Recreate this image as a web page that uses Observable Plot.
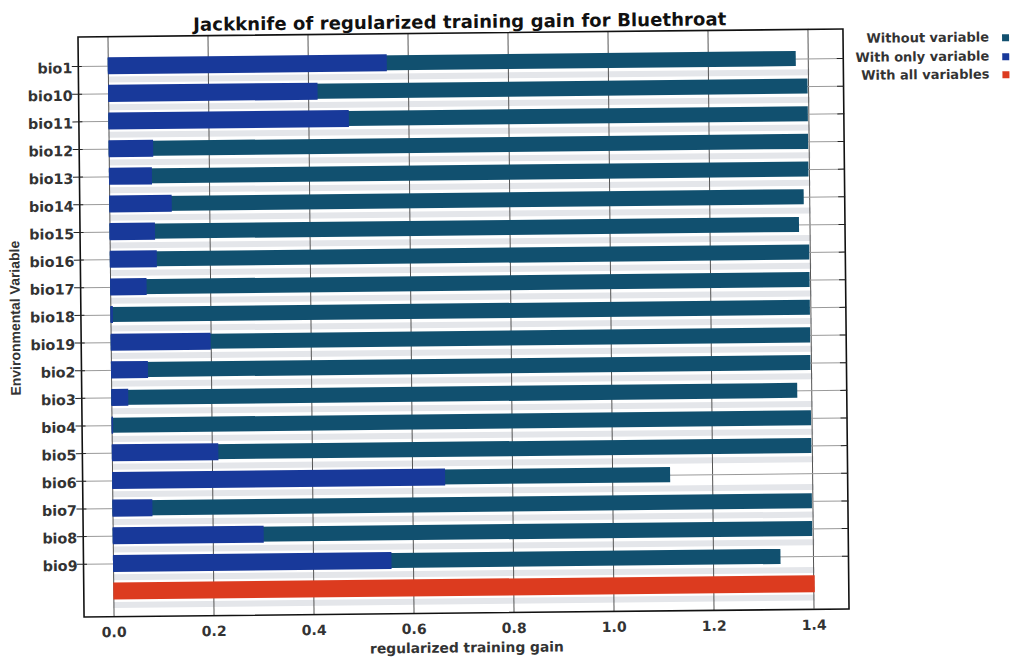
<!DOCTYPE html>
<html>
<head>
<meta charset="utf-8">
<script src="https://cdn.jsdelivr.net/npm/d3@7"></script>
<script src="https://cdn.jsdelivr.net/npm/@observablehq/plot@0.6"></script>
<style>
  html, body { margin: 0; padding: 0; background: #fff; }
  #chart {
    position: absolute; left: 0; top: 0; width: 1021px; height: 657px;
    transform: rotate(-0.6deg); transform-origin: 463px 322.5px;
    font-family: "DejaVu Sans", sans-serif; color: #333;
  }
  #chart svg { position: absolute; left: 0; top: 0; }
  #title {
    position: absolute; left: 0; width: 926px; top: 13px; text-align: center;
    font-weight: bold; font-size: 18px; line-height: 18px; letter-spacing: 0.1px; color: #111;
  }
  .legend-row {
    position: absolute; right: 9.5px; display: flex; align-items: center; gap: 12.5px;
    font-size: 13px; font-weight: bold; line-height: 18.5px; color: #333; white-space: nowrap;
  }
  .swatch { width: 7px; height: 7px; }
</style>
</head>
<body>
<div id="chart"><div id="title"></div></div>
<script>
// Jackknife test of variable importance (MaxEnt), regularized training gain
const chartTitle = "Jackknife of regularized training gain for Bluethroat";
const variables = ["bio1","bio10","bio11","bio12","bio13","bio14","bio15","bio16","bio17","bio18",
                   "bio19","bio2","bio3","bio4","bio5","bio6","bio7","bio8","bio9"];
// gain of the model built without the variable
const gainWithout = [1.376,1.399,1.399,1.399,1.399,1.389,1.379,1.399,1.399,1.399,
                     1.399,1.399,1.372,1.399,1.399,1.116,1.399,1.399,1.335];
// gain of the model built with only the variable
const gainOnly = [0.558,0.419,0.481,0.089,0.086,0.125,0.091,0.094,0.073,0.005,
                  0.200,0.074,0.034,0.003,0.213,0.666,0.080,0.302,0.557];
// gain of the model with all variables
const gainAll = 1.403;
const xTicks = [0, 0.2, 0.4, 0.6, 0.8, 1.0, 1.2, 1.4];
const seriesLabels = ["Without variable", "With only variable", "With all variables"];
const seriesColors = ["#11506f", "#18399a", "#dc3b1f"];
const xLabel = "regularized training gain";
const yLabel = "Environmental Variable";

const ALL = "all variables";
const rows = variables.map((v, i) => ({name: v, without: gainWithout[i], only: gainOnly[i]}));
const yDomain = [...variables, ALL];

const W = 1021, H = 657;
const mt = 32.5, mb = 44.5, ml = 80.5, mr = 175.5, iTop = 15.7, iBot = 11.3;
const step = (H - mt - mb - iTop - iBot) / yDomain.length;
const [teal, blue, red] = seriesColors;

const chart = Plot.plot({
  width: W, height: H,
  marginLeft: ml, marginRight: mr, marginTop: mt, marginBottom: mb,
  style: {fontFamily: "DejaVu Sans", fontWeight: "bold", fontSize: "14px", color: "#333", background: "transparent", overflow: "visible"},
  x: {domain: [-0.06, 1.47]},
  y: {domain: yDomain, padding: 0, round: false, insetTop: iTop, insetBottom: iBot},
  marks: [
    // light separators between rows
    Plot.barX(yDomain, {y: d => d, x1: 0, x2: gainAll, dy: step / 2, insetTop: (step - 6) / 2, insetBottom: (step - 6) / 2, fill: "#e4e6ea"}),
    Plot.gridX(xTicks, {stroke: "#555", strokeOpacity: 1}),
    Plot.gridY(variables, {stroke: "#9a9a9a", strokeOpacity: 1}),
    Plot.barX(rows, {y: "name", x1: 0, x2: "without", fill: teal, insetTop: 6.3, insetBottom: 6.3}),
    Plot.barX(rows, {y: "name", x1: 0, x2: "only", fill: blue, insetTop: 5.3, insetBottom: 5.3}),
    Plot.barX([ALL], {y: d => d, x1: 0, x2: gainAll, fill: red, insetTop: 5.3, insetBottom: 5.3}),
    Plot.frame({stroke: "#111", strokeWidth: 1.6}),
    Plot.axisY(variables, {anchor: "left", tickSize: 10, dx: 4, fill: "none", label: null, stroke: "#222"}),
    Plot.axisY(variables, {anchor: "right", tickSize: 7, dx: -7, fill: "none", label: null, stroke: "#222"}),
    Plot.axisY(variables, {anchor: "left", tickSize: 0, tickPadding: 6, label: null, fontSize: 14.3, dy: 2, fill: "#333"}),
    Plot.axisX(xTicks, {anchor: "bottom", tickSize: 0, tickPadding: 10.5, tickFormat: d3.format(".1f"), label: null, fontSize: 14, fill: "#333"}),
    Plot.text([xLabel], {frameAnchor: "bottom", lineAnchor: "middle", dy: 35, fontSize: 13.8, fill: "#333"}),
    Plot.text([yLabel], {frameAnchor: "left", textAnchor: "middle", lineAnchor: "middle", dx: -65.5, dy: -9.5, rotate: -90, fontSize: 14, fontFamily: "Liberation Sans", letterSpacing: "-0.3px", fill: "#333"})
  ]
});

const root = document.getElementById("chart");
root.appendChild(chart);
document.getElementById("title").textContent = chartTitle;

// legend in the upper right
const legendCenters = [43.5, 62, 80.5];
seriesLabels.forEach((label, i) => {
  const row = document.createElement("div");
  row.className = "legend-row";
  row.style.top = (legendCenters[i] - 9.25) + "px";
  const span = document.createElement("span");
  span.textContent = label;
  const sw = document.createElement("span");
  sw.className = "swatch";
  sw.style.background = seriesColors[i];
  row.appendChild(span);
  row.appendChild(sw);
  root.appendChild(row);
});
</script>
</body>
</html>
